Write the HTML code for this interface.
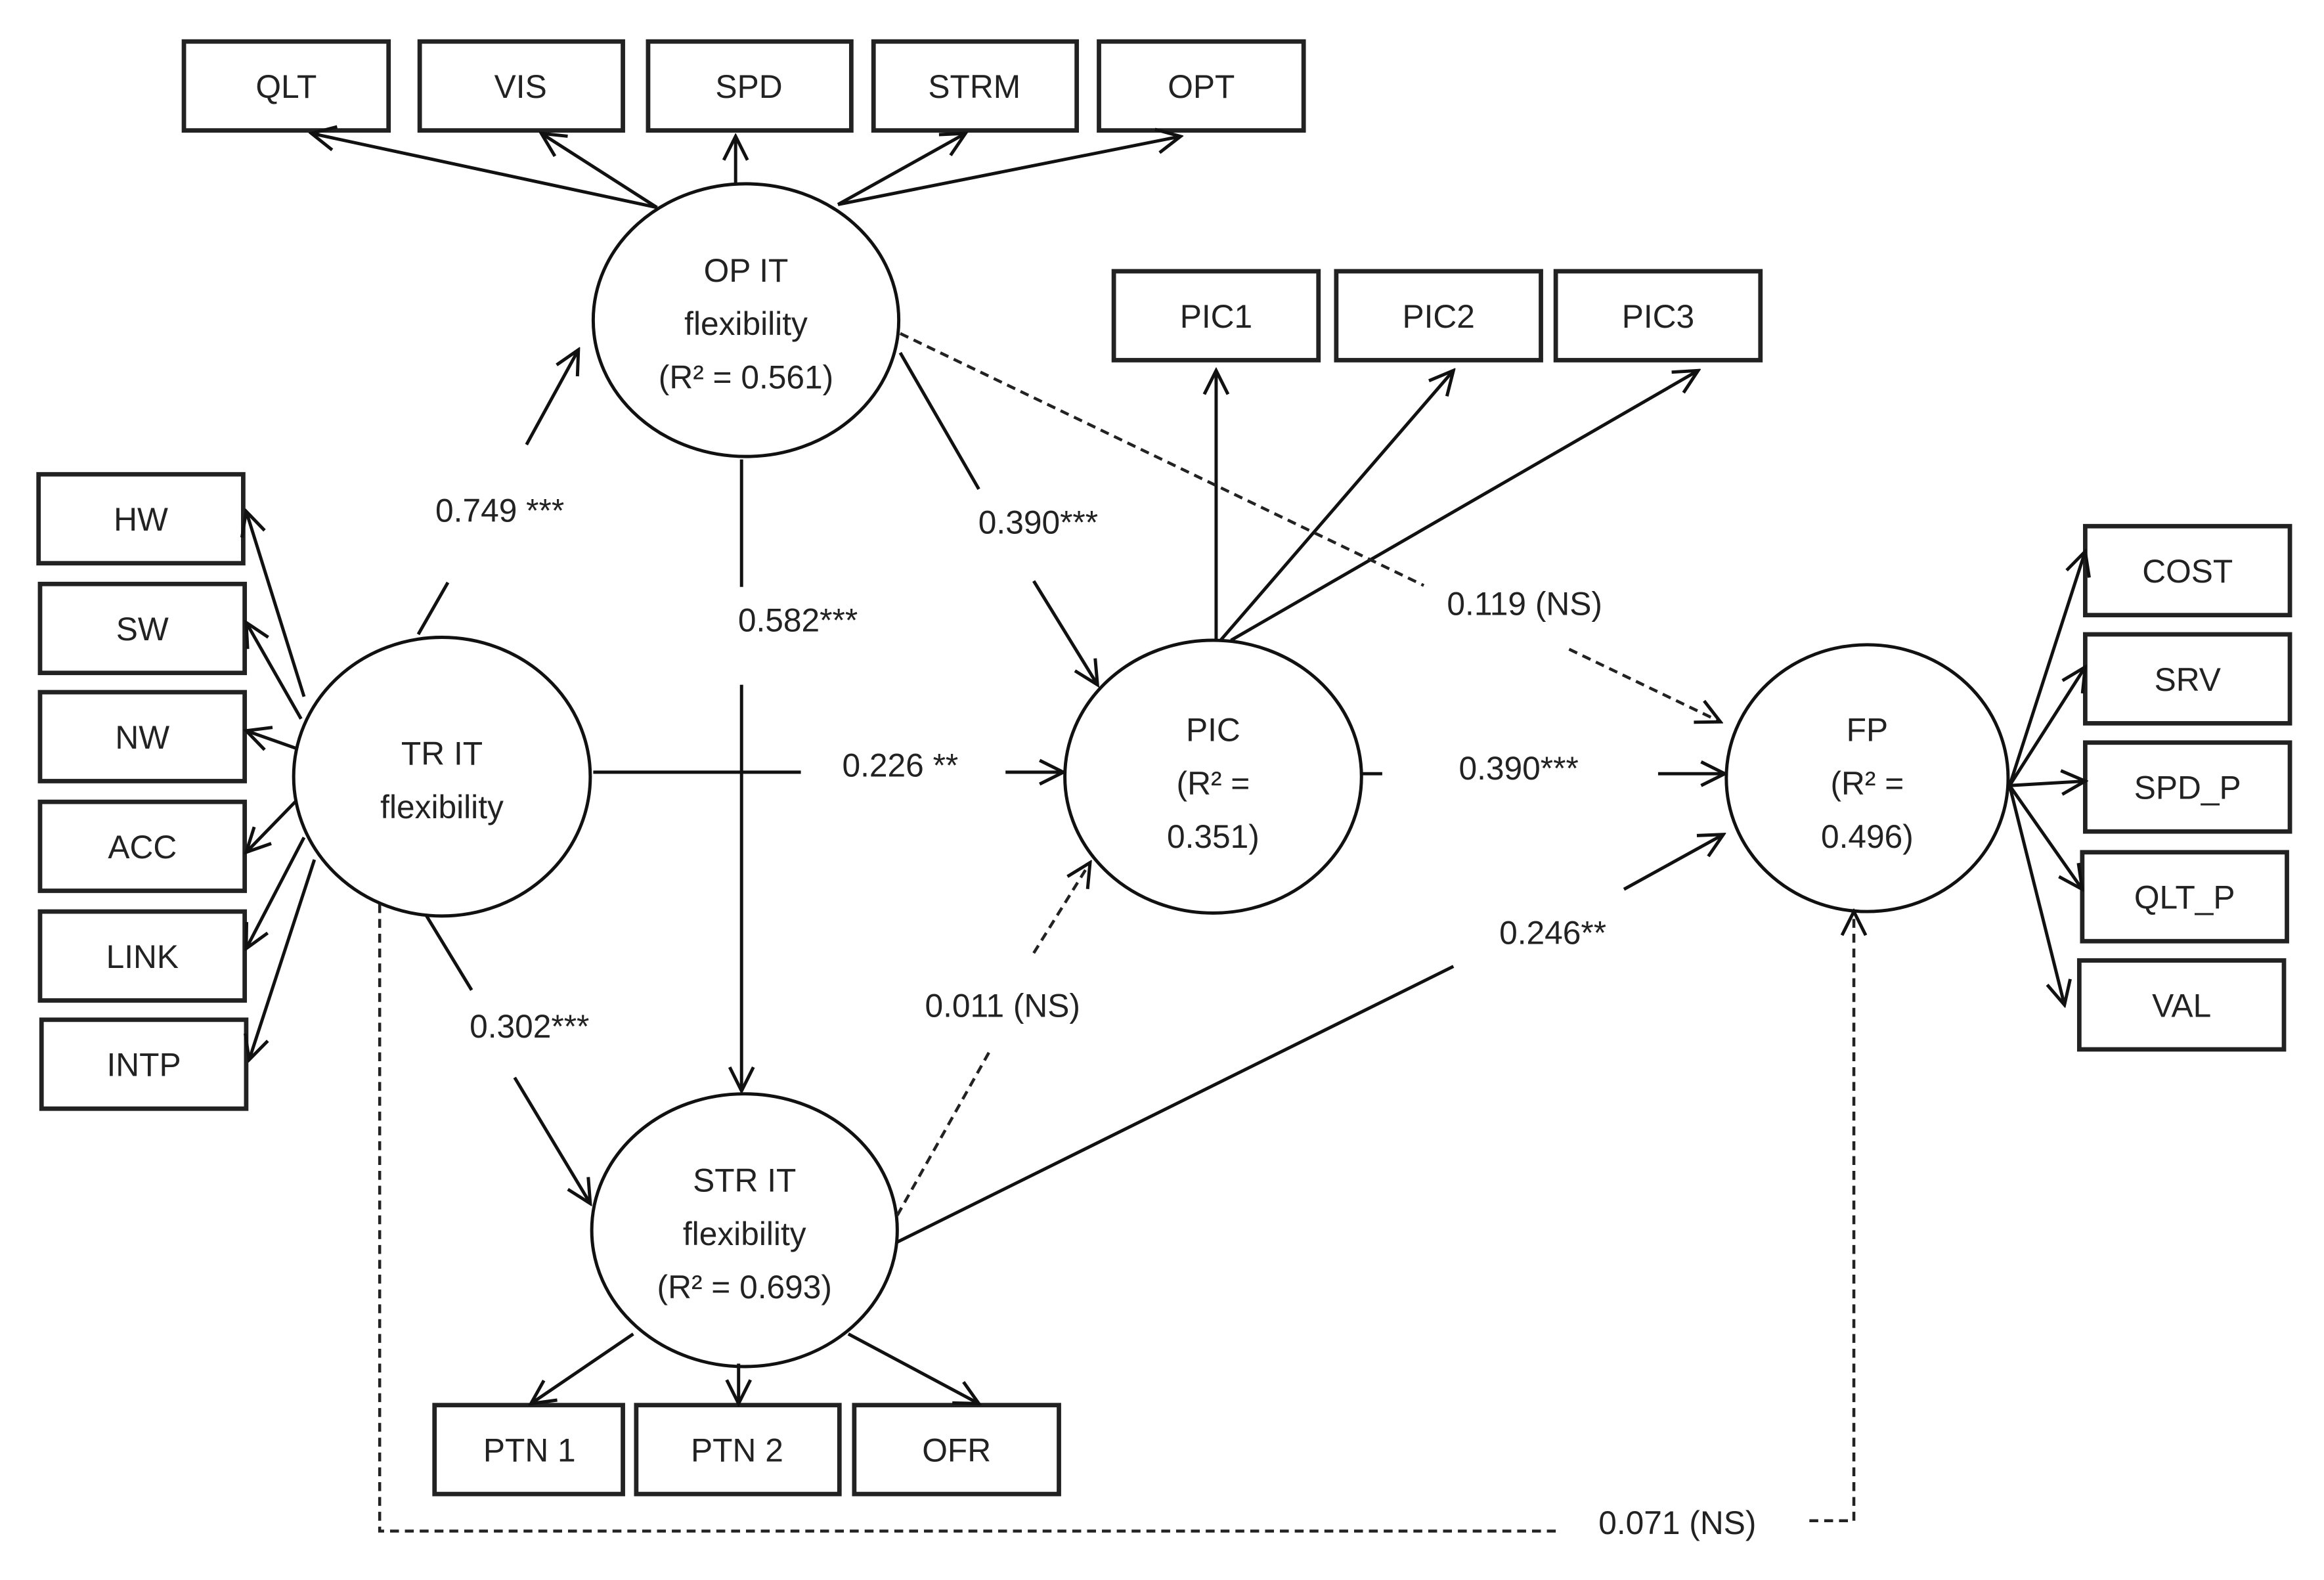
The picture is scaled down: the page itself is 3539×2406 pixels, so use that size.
<!DOCTYPE html>
<html><head><meta charset="utf-8"><style>
html,body{margin:0;padding:0;background:#fff}
svg{display:block}
text{font-family:"Liberation Sans",sans-serif;font-size:22px;fill:#222;text-anchor:middle}
</style></head><body>
<svg width="3539" height="2406" viewBox="0 0 1567 1066" preserveAspectRatio="none" xmlns="http://www.w3.org/2000/svg">
<defs>
<marker id="a" viewBox="0 0 20 20" refX="18" refY="10" markerWidth="20" markerHeight="20" markerUnits="userSpaceOnUse" orient="auto">
<path d="M2,2 L18,10 L2,18" fill="none" stroke="#111" stroke-width="2.2"/>
</marker>
</defs>
<g fill="#fff" stroke="#222" stroke-width="3">
<rect x="124" y="28" width="138" height="60"/><rect x="283" y="28" width="137" height="60"/><rect x="437" y="28" width="137" height="60"/><rect x="589" y="28" width="137" height="60"/><rect x="741" y="28" width="138" height="60"/>
<rect x="751" y="183" width="138" height="60"/><rect x="901" y="183" width="138" height="60"/><rect x="1049" y="183" width="138" height="60"/>
<rect x="26" y="320" width="138" height="60"/><rect x="27" y="394" width="138" height="60"/><rect x="27" y="467" width="138" height="60"/><rect x="27" y="541" width="138" height="60"/><rect x="27" y="615" width="138" height="60"/><rect x="28" y="688" width="138" height="60"/>
<rect x="1406" y="355" width="138" height="60"/><rect x="1406" y="428" width="138" height="60"/><rect x="1406" y="501" width="138" height="60"/><rect x="1404" y="575" width="138" height="60"/><rect x="1402" y="648" width="138" height="60"/>
<rect x="293" y="948" width="127" height="60"/><rect x="429" y="948" width="137" height="60"/><rect x="576" y="948" width="138" height="60"/>
</g>
<g fill="none" stroke="#111" stroke-width="2.2">
<ellipse cx="503" cy="216" rx="103" ry="92"/>
<ellipse cx="298" cy="524" rx="100" ry="94"/>
<ellipse cx="818" cy="524" rx="100" ry="92"/>
<ellipse cx="1259" cy="525" rx="95" ry="90"/>
<ellipse cx="502" cy="830" rx="103" ry="92"/>
</g>
<g fill="none" stroke="#111" stroke-width="2.2" marker-end="url(#a)">
<line x1="443" y1="140" x2="210" y2="90"/><line x1="443" y1="140" x2="365" y2="90"/><line x1="496" y1="124" x2="496" y2="92"/><line x1="565" y1="138" x2="651" y2="90"/><line x1="565" y1="138" x2="796" y2="92"/>
<line x1="355" y1="300" x2="390" y2="236"/>
<line x1="500" y1="462" x2="500" y2="736"/>
<line x1="697" y1="392" x2="740" y2="462"/>
<line x1="678" y1="521" x2="717" y2="521"/>
<line x1="1118" y1="522" x2="1163" y2="522"/>
<line x1="820" y1="432" x2="820" y2="250"/><line x1="823" y1="432" x2="980" y2="250"/><line x1="830" y1="432" x2="1145" y2="250"/>
<line x1="347" y1="727" x2="398" y2="812"/>
<line x1="1095" y1="600" x2="1162" y2="563"/>
<line x1="205" y1="470" x2="166" y2="345"/><line x1="203" y1="485" x2="166" y2="420"/><line x1="200" y1="505" x2="166" y2="493"/><line x1="200" y1="540" x2="166" y2="575"/><line x1="205" y1="565" x2="166" y2="640"/><line x1="212" y1="580" x2="168" y2="715"/>
<line x1="1355" y1="530" x2="1406" y2="372"/><line x1="1355" y1="530" x2="1406" y2="450"/><line x1="1355" y1="530" x2="1406" y2="527"/><line x1="1355" y1="530" x2="1404" y2="600"/><line x1="1355" y1="530" x2="1392" y2="678"/>
<line x1="427" y1="900" x2="358" y2="947"/><line x1="498" y1="920" x2="498" y2="947"/><line x1="572" y1="900" x2="660" y2="947"/>
</g>
<g fill="none" stroke="#111" stroke-width="2.2">
<line x1="282" y1="428" x2="302" y2="393"/>
<line x1="500" y1="310" x2="500" y2="396"/>
<line x1="607" y1="238" x2="660" y2="330"/>
<line x1="400" y1="521" x2="540" y2="521"/>
<line x1="918" y1="522" x2="932" y2="522"/>
<line x1="287" y1="617" x2="318" y2="668"/>
<line x1="605" y1="838" x2="980" y2="652"/>
</g>
<g fill="none" stroke="#222" stroke-width="2" stroke-dasharray="6,4">
<line x1="607" y1="225" x2="960" y2="395"/>
<line x1="1058" y1="438" x2="1160" y2="487" marker-end="url(#a)"/>
<line x1="605" y1="820" x2="668" y2="708"/>
<line x1="697" y1="643" x2="735" y2="582" marker-end="url(#a)"/>
<polyline points="256,610 256,1033 1050,1033"/>
<polyline points="1220,1026 1250,1026 1250,615" marker-end="url(#a)"/>
</g>
<text x="193" y="66">QLT</text><text x="351" y="66">VIS</text><text x="505" y="66">SPD</text><text x="657" y="66">STRM</text><text x="810" y="66">OPT</text>
<text x="820" y="221">PIC1</text><text x="970" y="221">PIC2</text><text x="1118" y="221">PIC3</text>
<text x="95" y="358">HW</text><text x="96" y="432">SW</text><text x="96" y="505">NW</text><text x="96" y="579">ACC</text><text x="96" y="653">LINK</text><text x="97" y="726">INTP</text>
<text x="1475" y="393">COST</text><text x="1475" y="466">SRV</text><text x="1475" y="539">SPD_P</text><text x="1473" y="613">QLT_P</text><text x="1471" y="686">VAL</text>
<text x="357" y="986">PTN 1</text><text x="497" y="986">PTN 2</text><text x="645" y="986">OFR</text>
<text x="503" y="190">OP IT</text><text x="503" y="226">flexibility</text><text x="503" y="262">(R² = 0.561)</text>
<text x="298" y="516">TR IT</text><text x="298" y="552">flexibility</text>
<text x="818" y="500">PIC</text><text x="818" y="536">(R² =</text><text x="818" y="572">0.351)</text>
<text x="1259" y="500">FP</text><text x="1259" y="536">(R² =</text><text x="1259" y="572">0.496)</text>
<text x="502" y="804">STR IT</text><text x="502" y="840">flexibility</text><text x="502" y="876">(R² = 0.693)</text>
<text x="337" y="352">0.749 ***</text><text x="538" y="426">0.582***</text><text x="700" y="360">0.390***</text><text x="1028" y="415">0.119 (NS)</text>
<text x="607" y="524">0.226 **</text><text x="1024" y="526">0.390***</text><text x="357" y="700">0.302***</text><text x="676" y="686">0.011 (NS)</text>
<text x="1047" y="637">0.246**</text><text x="1131" y="1035">0.071 (NS)</text>
</svg>
</body></html>
